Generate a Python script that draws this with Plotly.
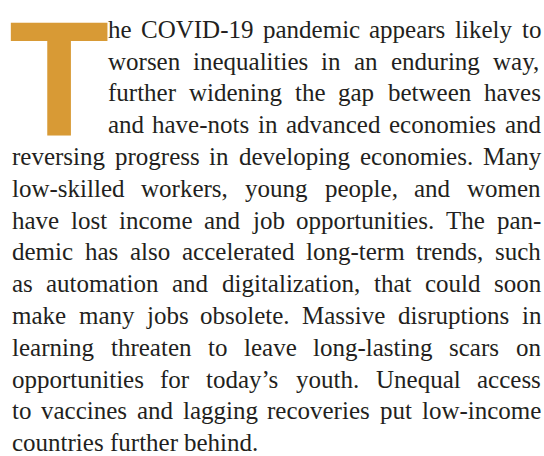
import plotly.graph_objects as go

# ---- content (data) ----
DROP_CAP = "T"
LINES = [
    "he COVID-19 pandemic appears likely to",
    "worsen inequalities in an enduring way,",
    "further widening the gap between haves",
    "and have-nots in advanced economies and",
    "reversing progress in developing economies. Many",
    "low-skilled workers, young people, and women",
    "have lost income and job opportunities. The pan-",
    "demic has also accelerated long-term trends, such",
    "as automation and digitalization, that could soon",
    "make many jobs obsolete. Massive disruptions in",
    "learning threaten to leave long-lasting scars on",
    "opportunities for today\u2019s youth. Unequal access",
    "to vaccines and lagging recoveries put low-income",
    "countries further behind.",
]

# ---- Times/Liberation Serif advance widths (1/1000 em) for justification ----
WIDTHS = {
    ' ': 250, 'a': 444, 'b': 500, 'c': 444, 'd': 500, 'e': 444, 'f': 333, 'g': 500,
    'h': 500, 'i': 278, 'j': 278, 'k': 500, 'l': 278, 'm': 778, 'n': 500, 'o': 500,
    'p': 500, 'q': 500, 'r': 333, 's': 389, 't': 278, 'u': 500, 'v': 500, 'w': 722,
    'x': 500, 'y': 500, 'z': 444,
    'A': 722, 'B': 667, 'C': 667, 'D': 722, 'E': 611, 'F': 556, 'G': 722, 'H': 722,
    'I': 333, 'J': 389, 'K': 722, 'L': 611, 'M': 889, 'N': 722, 'O': 722, 'P': 556,
    'Q': 722, 'R': 667, 'S': 556, 'T': 611, 'U': 722, 'V': 722, 'W': 944, 'X': 722,
    'Y': 722, 'Z': 611,
    '0': 500, '1': 500, '2': 500, '3': 500, '4': 500, '5': 500, '6': 500, '7': 500,
    '8': 500, '9': 500, '.': 250, ',': 250, '-': 333, '\u2019': 333, "'": 180,
}


def em_width(s):
    return sum(WIDTHS.get(c, 500) for c in s) / 1000.0


# ---- layout parameters ----
PAGE_W, PAGE_H = 544, 456
RIGHT = 540.0
LEFT = 11.0
CAP_LEFT = 106.5
CAP_LINES = 4
BASE0 = 37.0
LEAD = 31.8
SERIF = "Liberation Serif, Times New Roman, serif"
SANS = "Liberation Sans, Arial, sans-serif"
TEXT_COLOR = "#231f20"
CAP_COLOR = "#d89a35"
ASC = 0.891  # Liberation Serif ascent (em)

# choose the body font size so every justified line fits
fs = 25.0
for i, line in enumerate(LINES[:-1]):
    words = line.split(" ")
    avail = RIGHT - (CAP_LEFT if i < CAP_LINES else LEFT)
    need = sum(em_width(w) for w in words) + 0.2 * (len(words) - 1)
    fs = min(fs, avail / need)

annotations = []
for i, line in enumerate(LINES):
    words = line.split(" ")
    left = CAP_LEFT if i < CAP_LINES else LEFT
    widths = [em_width(w) * fs for w in words]
    if i == len(LINES) - 1 or len(words) == 1:
        gap = 0.25 * fs
    else:
        gap = (RIGHT - left - sum(widths)) / (len(words) - 1)
    baseline = BASE0 + i * LEAD
    x = left
    for w, wd in zip(words, widths):
        annotations.append(dict(
            x=x - 1, y=baseline - ASC * fs - 1, xref="x", yref="y",
            xanchor="left", yanchor="top", text=w, showarrow=False,
            font=dict(family=SERIF, size=fs, color=TEXT_COLOR),
        ))
        x += wd + gap

# drop cap
CAP_FS = 164
annotations.append(dict(
    x=11 - 0.021 * CAP_FS - 1, y=133 + 0.23 * CAP_FS + 1, xref="x", yref="y",
    xanchor="left", yanchor="bottom", text=DROP_CAP, showarrow=False,
    font=dict(family=SANS, size=CAP_FS, color=CAP_COLOR, weight="bold"),
))

fig = go.Figure()
fig.update_layout(
    width=PAGE_W, height=PAGE_H, autosize=False,
    margin=dict(l=0, r=0, t=0, b=0, pad=0),
    paper_bgcolor="white", plot_bgcolor="white",
    xaxis=dict(range=[0, PAGE_W], visible=False, fixedrange=True),
    yaxis=dict(range=[PAGE_H, 0], visible=False, fixedrange=True),
    annotations=annotations, showlegend=False,
)
fig.write_html("out.html", config={"displayModeBar": False},
               post_script="document.body.style.margin='0';document.body.style.overflow='hidden';")
